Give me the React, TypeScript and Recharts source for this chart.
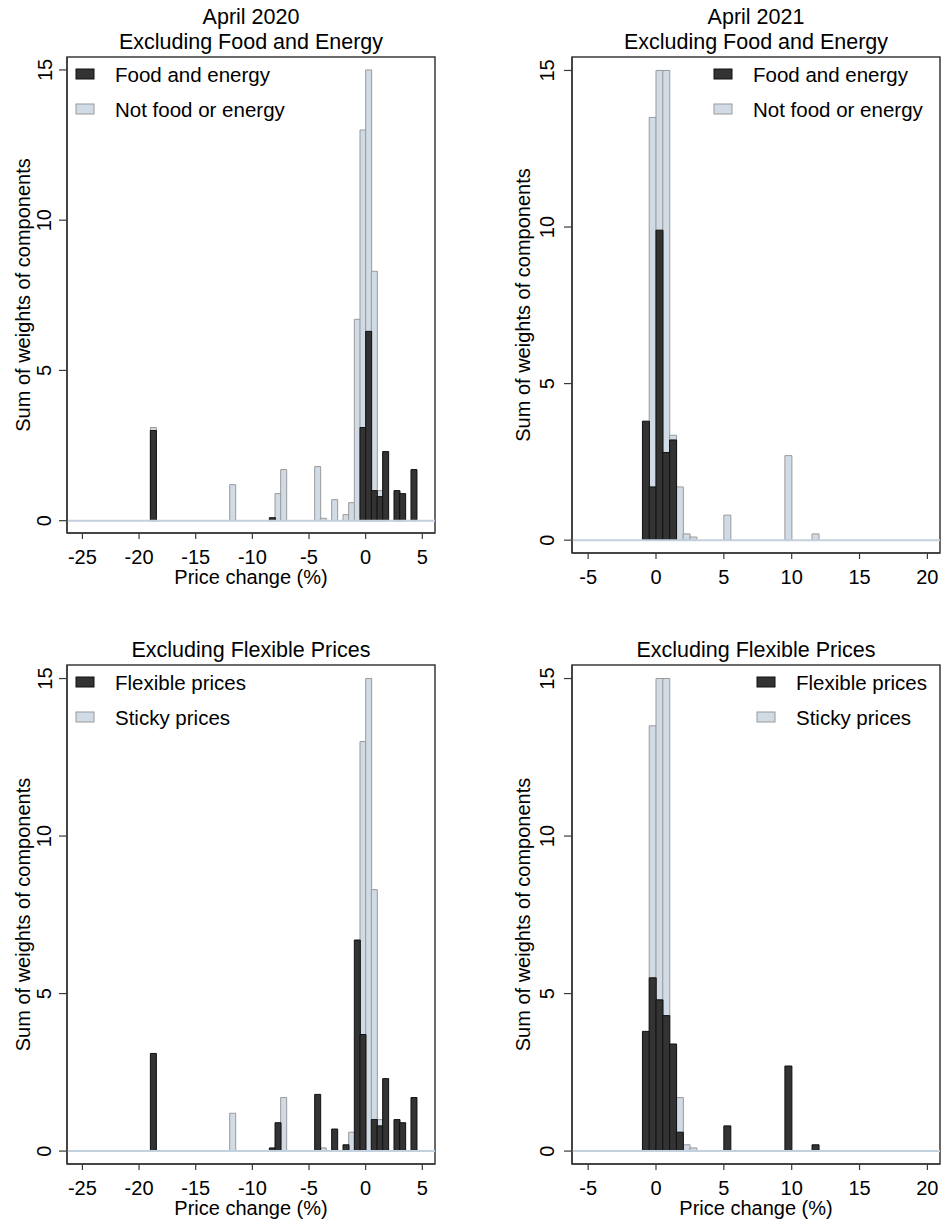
import React from "react";
import { BarChart, Bar, XAxis, YAxis, ReferenceLine, ReferenceArea, Legend, Label } from "recharts";

const FONT = '"Liberation Sans", Arial, Helvetica, sans-serif';

// bin centres (price change, %), 0.5 point bins
const bins2020 = [-18.75, -11.75, -8.25, -7.75, -7.25, -4.25, -3.75, -2.75, -1.75, -1.25, -0.75, -0.25, 0.25, 0.75, 1.25, 1.75, 2.75, 3.25, 4.25];
const foodEnergy2020 = [3.0, null, 0.1, null, null, null, null, null, null, null, null, 3.1, 6.3, 1.0, 0.8, 2.3, 1.0, 0.9, 1.7];
const notFoodEnergy2020 = [3.1, 1.2, null, 0.9, 1.7, 1.8, 0.08, 0.7, 0.2, 0.6, 6.7, 13.0, 15.0, 8.3, 1.0, null, null, null, null];
const flexible2020 = [3.1, null, 0.1, 0.9, null, 1.8, null, 0.7, 0.2, null, 6.7, 3.7, null, 1.0, 0.8, 2.3, 1.0, 0.9, 1.7];
const sticky2020 = [null, 1.2, null, null, 1.7, null, 0.1, null, null, 0.6, null, 13.0, 15.0, 8.3, 1.0, null, null, null, null];

const bins2021 = [-0.75, -0.25, 0.25, 0.75, 1.25, 1.75, 2.25, 2.75, 5.25, 9.75, 11.75];
const foodEnergy2021 = [3.8, 1.7, 9.9, 2.8, 3.2, null, null, null, null, null, null];
const notFoodEnergy2021 = [null, 13.5, 15.0, 15.0, 3.35, 1.7, 0.2, 0.1, 0.8, 2.7, 0.2];
const flexible2021 = [3.8, 5.5, 4.8, 4.3, 3.4, 0.6, null, null, 0.8, 2.7, 0.2];
const sticky2021 = [null, 13.5, 15.0, 15.0, 3.35, 1.7, 0.2, 0.1, null, null, null];

const ticks2020 = [-25, -20, -15, -10, -5, 0, 5];
const ticks2021 = [-5, 0, 5, 10, 15, 20];
const yTicks = [0, 5, 10, 15];

const Y_DOMAIN: [number, number] = [-0.41, 15.43];
const AXIS = "#3a3a3a";
const DARK = { fill: "#333333", stroke: "#111111" };
const LIGHT = { fill: "#d1dbe5", stroke: "#9a9a9a" };
const ZERO = "#c3d1de";

const Y_AXIS_W = 66;
const X_AXIS_H = 70;
const PAD = 2;

const XTick = ({ x, y, payload }: any) => (
  <text x={x} y={y + 25} textAnchor="middle" fontSize={20} fontFamily={FONT} fill="#000">
    {payload.value}
  </text>
);

const makeYTick = (gap: number) => ({ x, y, payload }: any) => {
  const bx = x - gap;
  return (
    <text x={bx} y={y} transform={`rotate(-90, ${bx}, ${y})`} textAnchor="middle" fontSize={20} fontFamily={FONT} fill="#000">
      {payload.value}
    </text>
  );
};

// dark series first, as in the original legend
const makeLegend = (keyX: number, textX: number, order: string[]) => ({ payload }: any) => {
  const items = [...(payload || [])].sort((a: any, b: any) => order.indexOf(a.value) - order.indexOf(b.value));
  return (
    <svg width={300} height={80} style={{ overflow: "visible" }}>
      {items.map((it: any, i: number) => (
        <g key={it.value}>
          <rect x={keyX} y={12 + i * 35} width={18} height={10}
            fill={it.color} stroke={it.color === DARK.fill ? DARK.stroke : LIGHT.stroke} strokeWidth={1} />
          <text x={textX} y={24.5 + i * 35} fontSize={20.5} fontFamily={FONT} fill="#000">{it.value}</text>
        </g>
      ))}
    </svg>
  );
};

type Spec = {
  box: { left: number; top: number; width: number; height: number };
  xDomain: [number, number];
  xTicks: number[];
  bins: number[];
  dark: (number | null)[];
  light: (number | null)[];
  darkName: string;
  lightName: string;
  titles: string[];
  titleBase: number[];
  showXTitle: boolean;
  legendKeyX: number;
  yTickGap: number;
  yTitleGap: number;
};

function Panel({ spec }: { spec: Spec }) {
  const { box } = spec;
  const data = spec.bins.map((x, i) => ({ x, dark: spec.dark[i], light: spec.light[i] }));
  const left = box.left - Y_AXIS_W;
  const top = box.top - PAD;
  const width = Y_AXIS_W + box.width + PAD;
  const height = PAD + box.height + X_AXIS_H;
  const YTick = makeYTick(spec.yTickGap);
  return (
    <div style={{ position: "absolute", left, top, width, height }}>
      <BarChart width={width} height={height} data={data}
        margin={{ top: PAD, right: PAD, bottom: 0, left: 0 }} barCategoryGap={0} barGap={0}>
        <XAxis xAxisId="bottom" dataKey="x" type="number" domain={spec.xDomain} ticks={spec.xTicks}
          height={X_AXIS_H} tickSize={6} tickMargin={0} tick={<XTick />}
          axisLine={{ stroke: AXIS, strokeWidth: 1.5 }} tickLine={{ stroke: AXIS, strokeWidth: 1.2 }}>
          {spec.showXTitle && (
            <Label content={({ viewBox }: any) => (
              <text x={viewBox.x + viewBox.width / 2} y={viewBox.y + 51} textAnchor="middle"
                fontSize={20} fontFamily={FONT} fill="#000">Price change (%)</text>
            )} />
          )}
        </XAxis>
        <XAxis xAxisId="top" dataKey="x" type="number" domain={spec.xDomain} orientation="top" hide />
        <YAxis yAxisId="left" type="number" domain={Y_DOMAIN} ticks={yTicks} width={Y_AXIS_W}
          tickSize={8} tickMargin={0} tick={<YTick />}
          axisLine={{ stroke: AXIS, strokeWidth: 1.5 }} tickLine={{ stroke: AXIS, strokeWidth: 1.2 }}>
          <Label content={({ viewBox }: any) => {
            const bx = viewBox.x + viewBox.width - spec.yTitleGap;
            const cy = viewBox.y + viewBox.height / 2;
            return (
              <text x={bx} y={cy} transform={`rotate(-90, ${bx}, ${cy})`} textAnchor="middle"
                fontSize={20} fontFamily={FONT} fill="#000">Sum of weights of components</text>
            );
          }} />
        </YAxis>
        {/* plot-region outline */}
        <ReferenceArea xAxisId="bottom" yAxisId="left" x1={spec.xDomain[0]} x2={spec.xDomain[1]}
          y1={Y_DOMAIN[0]} y2={Y_DOMAIN[1]} fill="none" stroke={AXIS} strokeWidth={1.5} ifOverflow="visible" />
        <Bar xAxisId="top" yAxisId="left" dataKey="light" name={spec.lightName}
          fill={LIGHT.fill} stroke={LIGHT.stroke} strokeWidth={1} isAnimationActive={false} />
        <Bar xAxisId="bottom" yAxisId="left" dataKey="dark" name={spec.darkName}
          fill={DARK.fill} stroke={DARK.stroke} strokeWidth={1} isAnimationActive={false} />
        <ReferenceLine xAxisId="bottom" yAxisId="left" y={0} stroke={ZERO} strokeWidth={2} />
        <Legend layout="horizontal" align="center" verticalAlign="middle"
          wrapperStyle={{ left: Y_AXIS_W, top: PAD, width: box.width, height: 80 }}
          content={makeLegend(spec.legendKeyX, spec.legendKeyX + 39, [spec.darkName, spec.lightName])} />
      </BarChart>
    </div>
  );
}

const panels: Spec[] = [
  {
    box: { left: 67, top: 57, width: 368, height: 476 },
    xDomain: [-26.36, 6.12], xTicks: ticks2020, bins: bins2020,
    dark: foodEnergy2020, light: notFoodEnergy2020,
    darkName: "Food and energy", lightName: "Not food or energy",
    titles: ["April 2020", "Excluding Food and Energy"], titleBase: [24.3, 48.5],
    showXTitle: true, legendKeyX: 9, yTickGap: 7.5, yTitleGap: 37,
  },
  {
    box: { left: 572, top: 57, width: 368, height: 496 },
    xDomain: [-6.19, 20.93], xTicks: ticks2021, bins: bins2021,
    dark: foodEnergy2021, light: notFoodEnergy2021,
    darkName: "Food and energy", lightName: "Not food or energy",
    titles: ["April 2021", "Excluding Food and Energy"], titleBase: [24.3, 48.5],
    showXTitle: false, legendKeyX: 142, yTickGap: 10.4, yTitleGap: 42,
  },
  {
    box: { left: 67, top: 665, width: 368, height: 499 },
    xDomain: [-26.36, 6.12], xTicks: ticks2020, bins: bins2020,
    dark: flexible2020, light: sticky2020,
    darkName: "Flexible prices", lightName: "Sticky prices",
    titles: ["Excluding Flexible Prices"], titleBase: [656.7],
    showXTitle: true, legendKeyX: 9, yTickGap: 7.5, yTitleGap: 37,
  },
  {
    box: { left: 572, top: 665, width: 368, height: 499 },
    xDomain: [-6.19, 20.93], xTicks: ticks2021, bins: bins2021,
    dark: flexible2021, light: sticky2021,
    darkName: "Flexible prices", lightName: "Sticky prices",
    titles: ["Excluding Flexible Prices"], titleBase: [656.7],
    showXTitle: true, legendKeyX: 185, yTickGap: 10.4, yTitleGap: 42,
  },
];

export default function App() {
  return (
    <div style={{ position: "absolute", left: 0, top: 0, width: 942, height: 1224, background: "#fff", fontFamily: FONT }}>
      {panels.map((p, i) => (
        <Panel key={i} spec={p} />
      ))}
      <svg width={942} height={1224} style={{ position: "absolute", left: 0, top: 0, pointerEvents: "none" }}>
        {panels.map((p, i) =>
          p.titles.map((t, j) => (
            <text key={`${i}-${j}`} x={p.box.left + p.box.width / 2} y={p.titleBase[j]} textAnchor="middle"
              fontSize={21.5} fontFamily={FONT} fill="#000">{t}</text>
          ))
        )}
      </svg>
    </div>
  );
}
